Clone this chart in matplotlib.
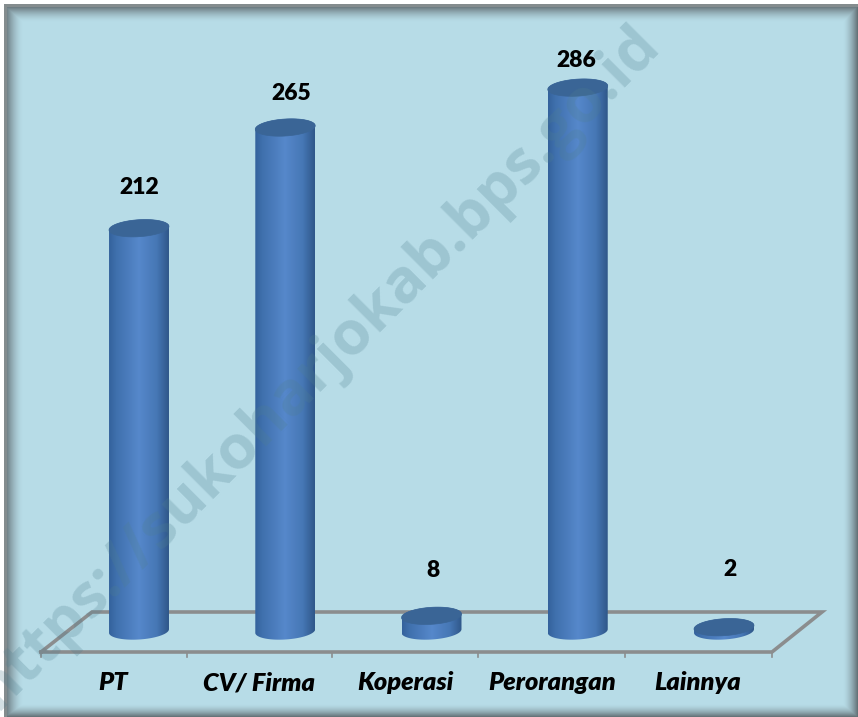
import numpy as np
import matplotlib
matplotlib.use('Agg')
from matplotlib import pyplot as plt
from matplotlib.colors import LinearSegmentedColormap
from matplotlib.patches import Polygon

categories = ['PT', 'CV/ Firma', 'Koperasi', 'Perorangan', 'Lainnya']
values = [212, 265, 8, 286, 2]
# how far each number sits above its bar top, in points
label_offsets = [22, 17, 25, 12, 34]
label_shift = [0, 4, 1, -1, 4]

W, H = 858, 717
BASE_PX = 631
SCALE = 1.9
STEP = 146.25
FIRST_BAR = 139
BAR_W = 0.41
DEPTH = 0.178

plt.rcParams['font.family'] = ['Lato', 'DejaVu Sans']
fig = plt.figure(figsize=(W / 100, H / 100), dpi=100)

# background, frame shadow and the floor use pixel coordinates
bg = fig.add_axes([0, 0, 1, 1])
bg.set_xlim(0, W)
bg.set_ylim(H, 0)
bg.axis('off')

xx, yy = np.meshgrid(np.arange(W) + 0.5, np.arange(H) + 0.5)
shade = np.clip(1 - np.minimum.reduce([(xx - 5) / 18, (yy - 6) / 16, (W - xx) / 15, (H - yy) / 13]), 0, 1) ** 1.6
inner = np.array([0.718, 0.863, 0.906])
dark = np.array([0.38, 0.43, 0.45])
frame = inner + (dark - inner) * shade[..., None]
frame[((xx >= 4) & (xx < 7)) | ((yy >= 4) & (yy < 7))] = [0.52, 0.55, 0.56]
frame[(xx < 4) | (yy < 4)] = 1
bg.imshow(frame, extent=[0, W, H, 0], aspect='auto', interpolation='bilinear')

floor = '#8b8d8e'
bg.plot([41, 92, 822, 772, 41], [652, 612, 612, 652, 652], color=floor, lw=2.6, solid_joinstyle='miter')
for t in [41, 187, 332, 478, 625, 772]:
    bg.plot([t, t], [652, 657], color=floor, lw=1.2)

# chart axes: x is the category number, y the value
ax = fig.add_axes([0, 0, 1, 1], facecolor='none')
ax.axis('off')

body_cmap = LinearSegmentedColormap.from_list('body', [
    (0, '#34629c'), (0.12, '#3f70ad'), (0.5, '#5688cb'), (0.8, '#4677b5'), (1, '#2f5789')])
grad = np.linspace(0, 1, 128).reshape(1, -1)
theta = np.linspace(0, 2 * np.pi, 80)
rx = BAR_W / 2
ry = 8.5 / SCALE
tilt = 1.8 / SCALE


def ring(cx, cy):
    return np.column_stack([cx + rx * np.cos(theta),
                            cy + ry * np.sin(theta) + tilt * np.cos(theta)])


for i, v in enumerate(values):
    top = ring(i, v)
    half = theta <= np.pi
    # body outline: lower half of the base ring, then up to the top ring
    low_half = np.column_stack([i + rx * np.cos(theta[half]),
                                -ry * np.sin(theta[half]) + tilt * np.cos(theta[half])])
    outline = np.vstack([low_half, top[half][::-1]])
    clip = Polygon(outline, closed=True, transform=ax.transData, facecolor='none', edgecolor='none')
    ax.add_patch(clip)
    im = ax.imshow(grad, extent=[i - rx, i + rx, -ry - tilt, v + ry], cmap=body_cmap,
                   aspect='auto', zorder=2)
    im.set_clip_path(clip)
    ax.add_patch(Polygon(top, closed=True, facecolor='#3a6596', edgecolor='#3a6596', lw=0.5, zorder=3))
    ax.annotate(str(v), (i, v), xytext=(label_shift[i], label_offsets[i]), textcoords='offset points',
                ha='center', va='bottom', fontsize=16.5, fontweight='heavy', color='black', zorder=5)
    ax.text(i - DEPTH, (BASE_PX - 683) / SCALE, categories[i], ha='center', va='center',
            fontsize=18.3, fontweight='heavy', fontstyle='italic', color='black', zorder=5)

ax.set_xlim(-FIRST_BAR / STEP, (W - FIRST_BAR) / STEP)
ax.set_ylim((BASE_PX - H) / SCALE, BASE_PX / SCALE)

# watermark lies over the whole chart
fig.text(318 / W, 1 - 368 / H, 'https://sukoharjokab.bps.go.id', rotation=45, rotation_mode='anchor',
         ha='center', va='center', fontsize=44, fontweight='bold', family=['Open Sans', 'DejaVu Sans'],
         color='#4f7f8f', alpha=0.25, zorder=10)

fig.savefig('out.png', dpi=100)
